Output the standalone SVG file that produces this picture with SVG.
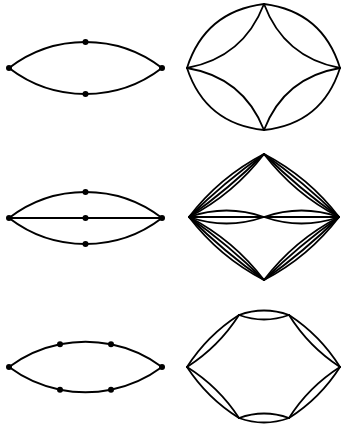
<svg xmlns="http://www.w3.org/2000/svg" width="342" height="427" viewBox="0 0 342 427">
<style>
.e{fill:none;stroke:#000;stroke-width:2;stroke-linecap:round;stroke-linejoin:round}
.f{fill:none;stroke:#000;stroke-width:1.8;stroke-linecap:round}
.n{fill:#000}
</style>
<rect width="342" height="427" fill="#fff"/>
<g id="connectors">
<!-- diagram 1 left -->
<path class="e" d="M9,68 A125.5,125.5 0 0 1 85.5,42"/>
<path class="e" d="M85.5,42 A125.5,125.5 0 0 1 162,68"/>
<path class="e" d="M9,68 A125.5,125.5 0 0 0 85.5,94"/>
<path class="e" d="M85.5,94 A125.5,125.5 0 0 0 162,68"/>
<!-- diagram 1 right -->
<path class="f" d="M187,68 Q205,11.4 264,4"/>
<path class="f" d="M187,68 Q243.4,57.5 264,4"/>
<path class="f" d="M264,4 Q322.6,11.5 340,68"/>
<path class="f" d="M264,4 Q284,57.4 340,68"/>
<path class="f" d="M340,68 Q322.2,123.8 264,130"/>
<path class="f" d="M340,68 Q284.3,77.3 264,130"/>
<path class="f" d="M264,130 Q205.4,123.9 187,68"/>
<path class="f" d="M264,130 Q243.1,77.2 187,68"/>
<!-- diagram 2 left -->
<path class="e" d="M9,218 A125.5,125.5 0 0 1 85.5,192"/>
<path class="e" d="M85.5,192 A125.5,125.5 0 0 1 162,218"/>
<path class="e" d="M9,218 L85.5,218"/>
<path class="e" d="M85.5,218 L162,218"/>
<path class="e" d="M9,218 A125.5,125.5 0 0 0 85.5,244"/>
<path class="e" d="M85.5,244 A125.5,125.5 0 0 0 162,218"/>
<!-- diagram 2 right -->
<path class="f" d="M189,217 Q219.4,177.1 264,154"/>
<path class="f" d="M189,217 Q223.9,182.4 264,154"/>
<path class="f" d="M189,217 Q229.1,188.6 264,154"/>
<path class="f" d="M189,217 Q233.6,193.9 264,154"/>
<path class="f" d="M264,154 Q308.6,177.1 339,217"/>
<path class="f" d="M264,154 Q304.1,182.4 339,217"/>
<path class="f" d="M264,154 Q298.9,188.6 339,217"/>
<path class="f" d="M264,154 Q294.4,193.9 339,217"/>
<path class="f" d="M339,217 Q308.6,256.9 264,280"/>
<path class="f" d="M339,217 Q304.1,251.6 264,280"/>
<path class="f" d="M339,217 Q298.9,245.4 264,280"/>
<path class="f" d="M339,217 Q294.4,240.1 264,280"/>
<path class="f" d="M264,280 Q219.4,256.9 189,217"/>
<path class="f" d="M264,280 Q223.9,251.6 189,217"/>
<path class="f" d="M264,280 Q229.1,245.4 189,217"/>
<path class="f" d="M264,280 Q233.6,240.1 189,217"/>
<path class="f" d="M189,217 Q226.5,204 264,217 Q301.5,230 339,217"/>
<path class="f" d="M189,217 Q226.5,230 264,217 Q301.5,204 339,217"/>
<path class="f" d="M189,217 L339,217"/>
<!-- diagram 3 left -->
<path class="e" d="M9,367 A128.3,128.3 0 0 1 60,344.3"/>
<path class="e" d="M60,344.3 A128.3,128.3 0 0 1 111,344.3"/>
<path class="e" d="M111,344.3 A128.3,128.3 0 0 1 162,367"/>
<path class="e" d="M9,367 A128.3,128.3 0 0 0 60,389.7"/>
<path class="e" d="M60,389.7 A128.3,128.3 0 0 0 111,389.7"/>
<path class="e" d="M111,389.7 A128.3,128.3 0 0 0 162,367"/>
<!-- diagram 3 right -->
<path class="f" d="M187,367 Q207.3,335.3 239,315"/>
<path class="f" d="M187,367 Q218.7,346.7 239,315"/>
<path class="f" d="M239,315 Q264,306 289,315"/>
<path class="f" d="M239,315 Q264,324 289,315"/>
<path class="f" d="M289,315 Q320.2,335.3 340,367"/>
<path class="f" d="M289,315 Q308.8,346.7 340,367"/>
<path class="f" d="M340,367 Q320.2,398.2 289,418"/>
<path class="f" d="M340,367 Q308.8,386.8 289,418"/>
<path class="f" d="M289,418 Q264,427 239,418"/>
<path class="f" d="M289,418 Q264,409 239,418"/>
<path class="f" d="M239,418 Q207.3,398.2 187,367"/>
<path class="f" d="M239,418 Q218.7,386.8 187,367"/>
</g>
<g id="n1a"><circle class="n" cx="9" cy="68" r="3"/></g>
<g id="n1b"><circle class="n" cx="85.5" cy="42" r="3"/></g>
<g id="n1c"><circle class="n" cx="162" cy="68" r="3"/></g>
<g id="n1d"><circle class="n" cx="85.5" cy="94" r="3"/></g>
<g id="n2a"><circle class="n" cx="9" cy="218" r="3"/></g>
<g id="n2b"><circle class="n" cx="85.5" cy="192" r="3"/></g>
<g id="n2c"><circle class="n" cx="85.5" cy="218" r="3"/></g>
<g id="n2d"><circle class="n" cx="85.5" cy="244" r="3"/></g>
<g id="n2e"><circle class="n" cx="162" cy="218" r="3"/></g>
<g id="n3a"><circle class="n" cx="9" cy="367" r="3"/></g>
<g id="n3b"><circle class="n" cx="60" cy="344.3" r="3"/></g>
<g id="n3c"><circle class="n" cx="111" cy="344.3" r="3"/></g>
<g id="n3d"><circle class="n" cx="162" cy="367" r="3"/></g>
<g id="n3e"><circle class="n" cx="60" cy="389.7" r="3"/></g>
<g id="n3f"><circle class="n" cx="111" cy="389.7" r="3"/></g>
</svg>
